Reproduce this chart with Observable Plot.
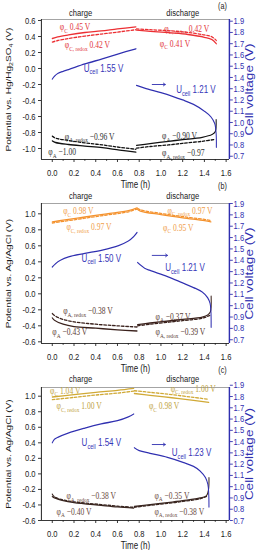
<!DOCTYPE html>
<html><head><meta charset="utf-8">
<script src="https://cdn.jsdelivr.net/npm/d3@7"></script>
<script src="https://cdn.jsdelivr.net/npm/@observablehq/plot@0.6"></script>
<style>
html,body{margin:0;padding:0;background:#fff;overflow:hidden;}
#root{position:relative;width:257px;height:550px;overflow:hidden;background:#fff;}
</style></head>
<body><div id="root"></div>
<script>
// ---------- shared axes ----------
const xTicks = [0, 0.2, 0.4, 0.6, 0.8, 1.0, 1.2, 1.4, 1.6];
const xMinorTicks = [0.1, 0.3, 0.5, 0.7, 0.9, 1.1, 1.3, 1.5];
const leftTicksA = [-1.0, -0.8, -0.6, -0.4, -0.2, 0.0, 0.2, 0.4, 0.6];
const leftTicksBC = [-0.6, -0.4, -0.2, 0.0, 0.2, 0.4, 0.6, 0.8, 1.0];
const rightTicks = [0.7, 0.8, 0.9, 1.0, 1.1, 1.2, 1.3, 1.4, 1.5, 1.6, 1.7, 1.8, 1.9];
const phaseNames = ["charge", "discharge"];
const phaseTimes = [0.26, 1.2];

// ---------- panel (a) : [time h, value] ----------
const aPhiC_ch = [[0,0.375],[0.05,0.395],[0.15,0.42],[0.3,0.45],[0.45,0.47],[0.6,0.495],[0.77,0.52]];
const aPhiCredox_ch = [[0,0.33],[0.05,0.35],[0.15,0.375],[0.3,0.405],[0.45,0.43],[0.6,0.455],[0.77,0.485]];
const aPhiC_dis = [[0.775,0.48],[0.9,0.465],[1.1,0.445],[1.25,0.425],[1.4,0.39],[1.47,0.36],[1.51,0.31]];
const aPhiCredox_dis = [[0.775,0.495],[0.9,0.485],[1.1,0.47],[1.25,0.45],[1.4,0.42],[1.47,0.395],[1.51,0.35]];
const aU_ch = [[0,1.385],[0.02,1.41],[0.05,1.435],[0.1,1.455],[0.15,1.47],[0.3,1.52],[0.46,1.565],[0.61,1.61],[0.77,1.655]];
const aU_dis = [[0.775,1.33],[0.85,1.305],[1.0,1.265],[1.1,1.235],[1.2,1.2],[1.3,1.16],[1.4,1.1],[1.46,1.05],[1.495,0.99],[1.508,0.9],[1.51,0.78]];
const aPhiA_ch = [[0,-0.905],[0.03,-0.925],[0.15,-0.95],[0.3,-0.97],[0.46,-0.99],[0.62,-1.02],[0.77,-1.045]];
const aPhiAredox_ch = [[0,-0.845],[0.03,-0.87],[0.15,-0.9],[0.3,-0.93],[0.46,-0.955],[0.62,-0.985],[0.77,-1.01]];
const aPhiA_dis = [[0.775,-0.96],[0.9,-0.94],[1.07,-0.91],[1.2,-0.89],[1.38,-0.86],[1.47,-0.825],[1.5,-0.79],[1.508,-0.64]];
const aPhiAredox_dis = [[0.775,-0.995],[0.9,-0.975],[1.07,-0.955],[1.2,-0.935],[1.38,-0.91],[1.5,-0.885]];
const aLabels = [
  [0.07, 0.517, "φ_{C} 0.45 V", "c"],
  [0.116, 0.29, "φ_{C, redox} 0.42 V", "c"],
  [0.29, 0.0, "U_{cell} 1.55 V", "u"],
  [1.03, 0.5, "φ_{C, redox} 0.42 V", "c"],
  [0.99, 0.31, "φ_{C} 0.41 V", "c"],
  [1.14, -0.267, "U_{cell} 1.21 V", "u"],
  [0.116, -0.85, "φ_{A, redox} −0.96 V", "a"],
  [-0.036, -1.046, "φ_{A} −1.00", "a"],
  [1.01, -0.846, "φ_{A} −0.90 V", "a"],
  [1.01, -1.058, "φ_{A, redox} −0.97", "a"]
];
const aArrow = [[0.92, 1.04, -0.2]];

// ---------- panel (b) ----------
const bPhiC_ch = [[0,0.9],[0.1,0.92],[0.3,0.96],[0.5,1.0],[0.7,1.04],[0.78,1.075]];
const bPhiCredox_ch = [[0,0.885],[0.1,0.905],[0.3,0.945],[0.5,0.985],[0.7,1.025],[0.78,1.06]];
const bPhiC_dis = [[0.785,1.055],[0.81,1.035],[1.0,0.99],[1.2,0.95],[1.4,0.915],[1.46,0.9]];
const bPhiCredox_dis = [[0.785,1.07],[0.81,1.05],[1.0,1.005],[1.2,0.965],[1.4,0.93],[1.46,0.915]];
const bU_ch = [[0,1.34],[0.03,1.37],[0.075,1.4],[0.15,1.43],[0.3,1.46],[0.46,1.49],[0.61,1.53],[0.7,1.57],[0.75,1.61],[0.78,1.645]];
const bU_dis = [[0.785,1.38],[0.85,1.33],[0.9,1.31],[1.06,1.256],[1.2,1.2],[1.3,1.16],[1.38,1.12],[1.43,1.07],[1.452,1.02],[1.46,0.95],[1.462,0.81]];
const bPhiA_ch = [[0,-0.3],[0.02,-0.33],[0.1,-0.38],[0.2,-0.41],[0.4,-0.43],[0.6,-0.45],[0.78,-0.465]];
const bPhiAredox_ch = [[0,-0.245],[0.03,-0.28],[0.1,-0.32],[0.2,-0.35],[0.4,-0.38],[0.6,-0.4],[0.78,-0.415]];
const bPhiA_dis = [[0.785,-0.385],[0.9,-0.365],[1.07,-0.34],[1.2,-0.32],[1.38,-0.29],[1.43,-0.265],[1.455,-0.225],[1.462,-0.03]];
const bPhiAredox_dis = [[0.785,-0.4],[0.9,-0.38],[1.07,-0.355],[1.2,-0.335],[1.38,-0.305],[1.45,-0.27]];
const bLabels = [
  [0.10, 1.03, "φ_{C} 0.98 V", "c"],
  [0.13, 0.833, "φ_{C, redox} 0.97 V", "c"],
  [0.27, 0.44, "U_{cell} 1.50 V", "u"],
  [1.06, 1.04, "φ_{C, redox} 0.97 V", "c"],
  [1.02, 0.825, "φ_{C} 0.95 V", "c"],
  [1.04, 0.325, "U_{cell} 1.21 V", "u"],
  [0.10, -0.217, "φ_{A, redox} −0.38 V", "a"],
  [0.0, -0.48, "φ_{A} −0.43 V", "a"],
  [0.95, -0.29, "φ_{A} −0.37 V", "a"],
  [0.95, -0.48, "φ_{A, redox} −0.39 V", "a"]
];
const bArrow = [[0.92, 1.06, 0.48]];

// ---------- panel (c) ----------
const cPhiC_ch = [[0,0.99],[0.2,1.02],[0.4,1.05],[0.6,1.075],[0.75,1.1]];
const cPhiCredox_ch = [[0,0.955],[0.2,0.985],[0.4,1.015],[0.6,1.04],[0.75,1.065]];
const cPhiC_dis = [[0.755,1.035],[0.9,1.01],[1.1,0.98],[1.3,0.945],[1.44,0.92]];
const cPhiCredox_dis = [[0.755,1.07],[0.9,1.05],[1.1,1.02],[1.3,0.985],[1.44,0.96]];
const cU_ch = [[0,1.39],[0.02,1.42],[0.055,1.44],[0.146,1.476],[0.3,1.52],[0.45,1.557],[0.6,1.586],[0.7,1.62],[0.75,1.645]];
const cU_dis = [[0.755,1.345],[0.8,1.32],[0.9,1.296],[1.06,1.26],[1.21,1.214],[1.3,1.18],[1.36,1.14],[1.41,1.08],[1.432,1.02],[1.44,0.93],[1.442,0.82]];
const cPhiA_ch = [[0,-0.29],[0.02,-0.31],[0.1,-0.345],[0.2,-0.37],[0.45,-0.405],[0.6,-0.425],[0.75,-0.44]];
const cPhiAredox_ch = [[0,-0.26],[0.02,-0.295],[0.1,-0.335],[0.2,-0.36],[0.45,-0.395],[0.6,-0.415],[0.75,-0.43]];
const cPhiA_dis = [[0.755,-0.42],[0.9,-0.395],[1.06,-0.37],[1.2,-0.345],[1.36,-0.31],[1.42,-0.28],[1.438,-0.2],[1.442,-0.05]];
const cPhiAredox_dis = [[0.755,-0.43],[0.9,-0.405],[1.06,-0.38],[1.2,-0.355],[1.36,-0.32],[1.42,-0.29]];
const cLabels = [
  [-0.02, 1.073, "φ_{C} 1.04 V", "c"],
  [0.04, 0.87, "φ_{C, redox} 1.00 V", "c"],
  [0.27, 0.395, "U_{cell} 1.54 V", "u"],
  [1.09, 1.094, "φ_{C, redox} 1.00 V", "c"],
  [0.89, 0.87, "φ_{C} 0.98 V", "c"],
  [1.10, 0.27, "U_{cell} 1.23 V", "u"],
  [0.13, -0.287, "φ_{A, redox} −0.38 V", "a"],
  [0.04, -0.49, "φ_{A} −0.40 V", "a"],
  [0.94, -0.278, "φ_{A} −0.35 V", "a"],
  [0.94, -0.49, "φ_{A, redox} −0.38 V", "a"]
];
const cArrow = [[0.92, 1.04, 0.378]];

// ---------- styling ----------
const K = 0.8;                 // horizontal squeeze of the original figure
const W = 257 / K;
const ML = 41 / K, MR = 28 / K;
const X_DOMAIN = [-0.1, 1.63];
const BLUE = "#2f2fb0";
const UTEXT = "#3636b8";
const SANS = "Liberation Sans, Arial, sans-serif";
const SERIF = "Liberation Serif, Times New Roman, serif";

function subscriptify(svg) {
  const NS = "http://www.w3.org/2000/svg";
  svg.querySelectorAll("text").forEach(t => {
    const s = t.textContent;
    if (!s.includes("_{")) return;
    while (t.firstChild) t.removeChild(t.firstChild);
    t.style.whiteSpace = "pre";
    const re = /_\{([^}]*)\}/g;
    let last = 0, m, raised = false;
    const add = (txt, sub) => {
      const ts = document.createElementNS(NS, "tspan");
      ts.textContent = txt;
      if (sub) { ts.setAttribute("font-size", "0.7em"); ts.setAttribute("dy", "0.36em"); raised = true; }
      else if (raised) { ts.setAttribute("dy", "-0.25em"); raised = false; }
      t.appendChild(ts);
    };
    while ((m = re.exec(s))) {
      if (m.index > last) add(s.slice(last, m.index), false);
      add(m[1], true);
      last = re.lastIndex;
    }
    if (last < s.length) add(s.slice(last), false);
  });
}

function drawPanel(cfg) {
  const [L0, L1] = cfg.left, [R0, R1] = cfg.right;
  const toL = v => L0 + (v - R0) / (R1 - R0) * (L1 - L0);
  const fromL = y => R0 + (y - L0) / (L1 - L0) * (R1 - R0);
  const lineMark = (data, stroke, dashed, onRight) => Plot.line(data, Object.assign({
    x: d => d[0], y: onRight ? d => toL(d[1]) : d => d[1],
    stroke, strokeWidth: 1.3, curve: "catmull-rom"
  }, dashed ? {strokeDasharray: "3.5,2"} : {}));
  const labelMark = (kind, fill, font) => Plot.text(cfg.labels.filter(d => d[3] === kind), {
    x: d => d[0], y: d => d[1], text: d => d[2], textAnchor: "start", lineAnchor: "middle",
    fill, fontFamily: font, fontSize: kind === "u" ? 10 : 9.5
  });
  const s = cfg.series;
  const svg = Plot.plot({
    width: W, height: cfg.height,
    marginLeft: ML, marginRight: MR, marginTop: 19, marginBottom: cfg.mb,
    style: {background: "transparent", overflow: "visible", maxWidth: "none", fontFamily: SANS, fontSize: "9.5px", color: "#1a1a1a"},
    x: {domain: X_DOMAIN},
    y: {domain: [L0, L1]},
    marks: [
      Plot.ruleY([L1], {stroke: "#9a9a9a", strokeWidth: 1}),
      Plot.ruleY([L0], {stroke: "#222", strokeWidth: 1}),
      Plot.ruleX([X_DOMAIN[0]], {stroke: "#222", strokeWidth: 1.25}),
      Plot.ruleX([X_DOMAIN[1]], {stroke: BLUE, strokeWidth: 1.8}),
      lineMark(s.phiC_ch, cfg.cath, false),
      lineMark(s.phiCredox_ch, cfg.cath, true),
      lineMark(s.phiC_dis, cfg.cath, false),
      lineMark(s.phiCredox_dis, cfg.cath, true),
      lineMark(s.phiA_ch, cfg.anode, false),
      lineMark(s.phiAredox_ch, cfg.anode, true),
      lineMark(s.phiA_dis, cfg.anode, false),
      lineMark(s.phiAredox_dis, cfg.anode, true),
      lineMark(s.u_ch, BLUE, false, true),
      lineMark(s.u_dis, BLUE, false, true),
      Plot.arrow(cfg.arrow, {x1: d => d[0], x2: d => d[1], y1: d => d[2], y2: d => d[2],
        stroke: BLUE, strokeWidth: 1, headLength: 4}),
      Plot.axisX(xTicks, {tickSize: 3, tickPadding: 7, tickFormat: d => d.toFixed(1), label: null, stroke: "#222"}),
      Plot.axisX(xMinorTicks, {tickSize: 1.8, tickFormat: () => "", label: null, stroke: "#222"}),
      Plot.axisY(cfg.leftTicks, {tickSize: 3.75, tickPadding: 3.5, tickFormat: d => d.toFixed(1), label: null, stroke: "#222"}),
      Plot.axisY(rightTicks.map(toL), {anchor: "right", tickSize: 3.75, tickPadding: 1.5,
        tickFormat: d => fromL(d).toFixed(1), label: null, stroke: BLUE, fill: BLUE, color: BLUE}),
      labelMark("c", cfg.cathText, SERIF),
      labelMark("a", cfg.anodeText, SERIF),
      labelMark("u", UTEXT, SANS),
      Plot.text([cfg.yTitle], {frameAnchor: "left", dx: -41, rotate: -90, textAnchor: "middle", lineAnchor: "middle",
        fontSize: 10, fill: "#1a1a1a", text: d => d}),
      Plot.text(["Cell voltage (V)"], {frameAnchor: "right", dx: 25.5, rotate: -90, textAnchor: "middle", lineAnchor: "middle",
        fontSize: 13.5, fill: BLUE, text: d => d}),
      Plot.text(["Time (h)"], {frameAnchor: "bottom", dy: 25.5, textAnchor: "middle", lineAnchor: "middle",
        fontSize: 10, fill: "#1a1a1a", text: d => d}),
      Plot.text(phaseNames, {x: (d, i) => phaseTimes[i], frameAnchor: "top", dy: cfg.phaseDy, textAnchor: "middle", lineAnchor: "middle",
        fontSize: 9.5, fill: "#1a1a1a", text: d => d}),
      Plot.text([cfg.tag], {x: () => 1.566, frameAnchor: "top", dy: cfg.tagDy, textAnchor: "middle", lineAnchor: "middle",
        fontSize: 9, fill: "#1a1a1a", text: d => d})
    ]
  });
  subscriptify(svg);
  svg.style.position = "absolute";
  svg.style.left = "0px";
  svg.style.top = cfg.top + "px";
  svg.style.transform = `scaleX(${K})`;
  svg.style.transformOrigin = "0 0";
  document.getElementById("root").appendChild(svg);
}

drawPanel({
  top: 0, height: 190, mb: 31, left: [-1.1375, 0.6125], right: [0.671, 1.915],
  leftTicks: leftTicksA, yTitle: "Potential vs. Hg/Hg_{2}SO_{4} (V)", tag: "(a)", phaseDy: -6.5, tagDy: -13,
  cath: "#ec2f33", cathText: "#e2353a", anode: "#111111", anodeText: "#333333",
  series: {phiC_ch: aPhiC_ch, phiCredox_ch: aPhiCredox_ch, phiC_dis: aPhiC_dis, phiCredox_dis: aPhiCredox_dis,
    phiA_ch: aPhiA_ch, phiAredox_ch: aPhiAredox_ch, phiA_dis: aPhiA_dis, phiAredox_dis: aPhiAredox_dis,
    u_ch: aU_ch, u_dis: aU_dis},
  labels: aLabels, arrow: aArrow
});
drawPanel({
  top: 184, height: 190, mb: 31, left: [-0.621, 1.129], right: [0.667, 1.9],
  leftTicks: leftTicksBC, yTitle: "Potential vs. Ag/AgCl (V)", tag: "(b)", phaseDy: -7.5, tagDy: -17,
  cath: "#f4922e", cathText: "#f0a04c", anode: "#3a211c", anodeText: "#5a3d35",
  series: {phiC_ch: bPhiC_ch, phiCredox_ch: bPhiCredox_ch, phiC_dis: bPhiC_dis, phiCredox_dis: bPhiCredox_dis,
    phiA_ch: bPhiA_ch, phiAredox_ch: bPhiAredox_ch, phiA_dis: bPhiA_dis, phiAredox_dis: bPhiAredox_dis,
    u_ch: bU_ch, u_dis: bU_dis},
  labels: bLabels, arrow: bArrow
});
drawPanel({
  top: 368, height: 182, mb: 30, left: [-0.6, 1.112], right: [0.7, 1.88],
  leftTicks: leftTicksBC, yTitle: "Potential vs. Ag/AgCl (V)", tag: "(c)", phaseDy: -9, tagDy: -17,
  cath: "#d0a936", cathText: "#bfa545", anode: "#3a2620", anodeText: "#6a4a40",
  series: {phiC_ch: cPhiC_ch, phiCredox_ch: cPhiCredox_ch, phiC_dis: cPhiC_dis, phiCredox_dis: cPhiCredox_dis,
    phiA_ch: cPhiA_ch, phiAredox_ch: cPhiAredox_ch, phiA_dis: cPhiA_dis, phiAredox_dis: cPhiAredox_dis,
    u_ch: cU_ch, u_dis: cU_dis},
  labels: cLabels, arrow: cArrow
});
</script>
</body></html>
